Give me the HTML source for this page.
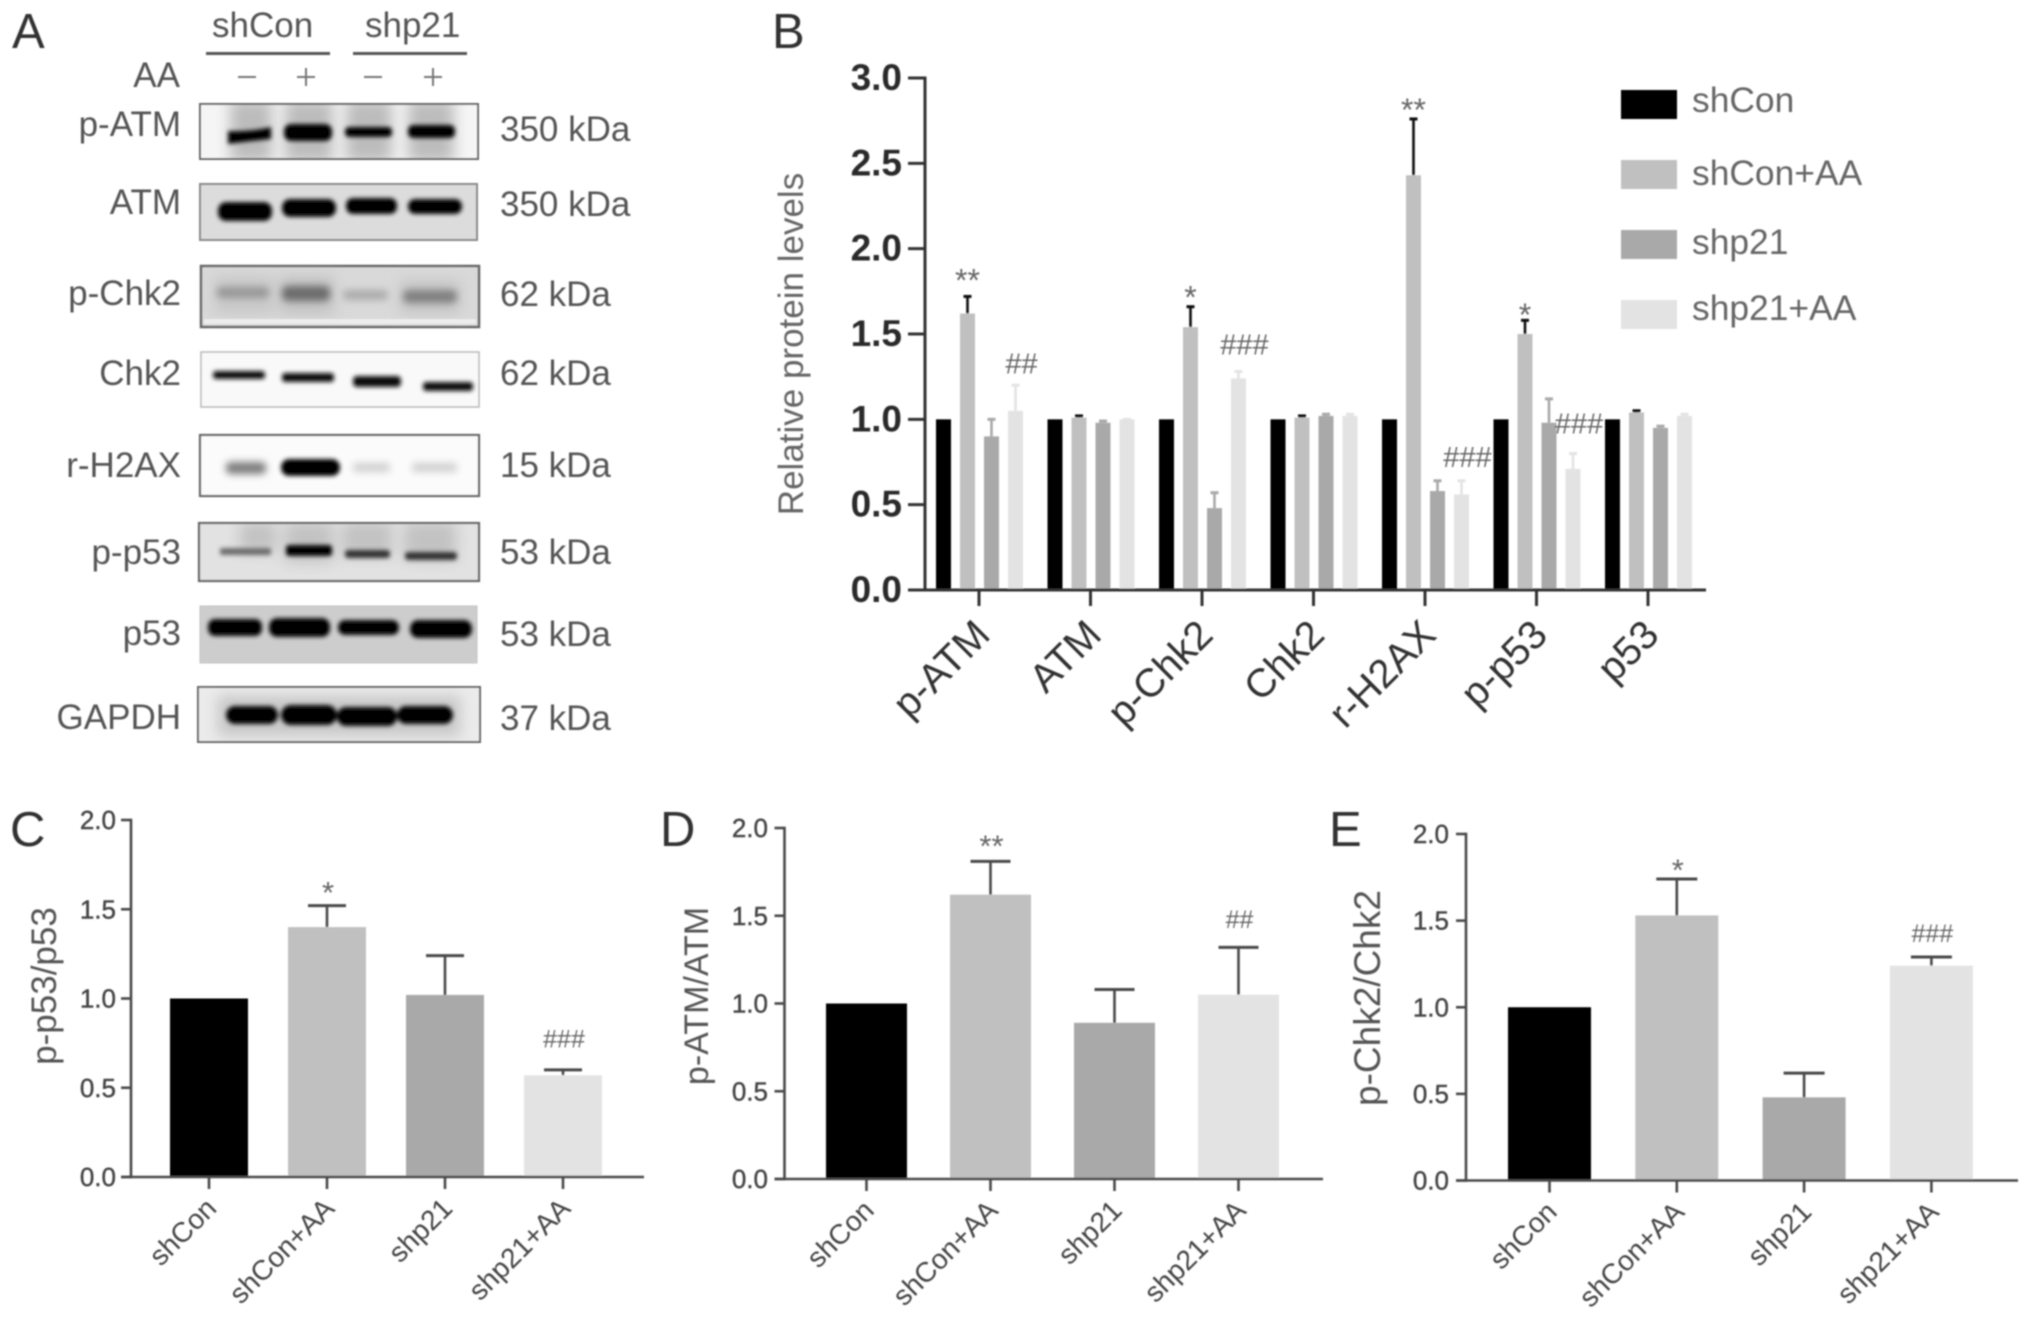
<!DOCTYPE html>
<html lang="en">
<head>
<meta charset="utf-8">
<title>Western blot and protein level charts</title>
<style>
html,body{margin:0;padding:0;background:#fff;width:2031px;height:1320px;overflow:hidden}
svg{display:block}
text{font-family:"Liberation Sans",sans-serif}
</style>
</head>
<body>
<svg id="figure" xmlns="http://www.w3.org/2000/svg" width="2031" height="1320" viewBox="0 0 2031 1320">
<defs>
<filter id="soft" filterUnits="userSpaceOnUse" x="0" y="0" width="2031" height="1320"><feGaussianBlur stdDeviation="0.7"/></filter>
<filter id="b1" x="-20%" y="-100%" width="140%" height="300%"><feGaussianBlur stdDeviation="2.2"/></filter>
<filter id="b2" x="-20%" y="-120%" width="140%" height="340%"><feGaussianBlur stdDeviation="3.6"/></filter>
<filter id="b3" x="-40%" y="-40%" width="180%" height="180%"><feGaussianBlur stdDeviation="7"/></filter>
<clipPath id="clip-atm-lanes"><rect x="201" y="105" width="276" height="53"/></clipPath>
<clipPath id="clip-p53-lanes"><rect x="200" y="524" width="278" height="56"/></clipPath>
<clipPath id="clip-gapdh"><rect x="199" y="688" width="280" height="53"/></clipPath>
</defs>
<g id="root" filter="url(#soft)">
<g id="panel-a" fill="#555">
<text x="12" y="48" font-size="49" fill="#333">A</text>
<text x="212" y="37" font-size="35">shCon</text>
<text x="365" y="37" font-size="35">shp21</text>
<rect x="206" y="52" width="124" height="3" fill="#555"/>
<rect x="353" y="52" width="114" height="3" fill="#555"/>
<text x="180" y="87" font-size="35" text-anchor="end">AA</text>
<g stroke="#777" stroke-width="2">
<path d="M238 77H256"/>
<path d="M297 77H315M306 68V86"/>
<path d="M364 77H382"/>
<path d="M424 77H442M433 68V86"/>
</g>

<g>
<rect x="200" y="104" width="278" height="55" fill="#f5f5f5" stroke="#666" stroke-width="2"/>
<g clip-path="url(#clip-atm-lanes)"><g fill="#bcbcbc" filter="url(#b3)"><rect x="230" y="100" width="42" height="62"/><rect x="285" y="100" width="48" height="62"/><rect x="346" y="100" width="46" height="62"/><rect x="408" y="100" width="46" height="62"/></g></g>
<g fill="#050505" filter="url(#b1)"><path d="M228 131 Q250 132 271 127 V139 Q250 141 228 144 Z"/><rect x="284" y="124" width="48" height="17" rx="7"/><rect x="345" y="127" width="47" height="10" rx="4"/><rect x="408" y="125" width="47" height="13" rx="5"/></g>
</g>
<g>
<rect x="200" y="184" width="277" height="56" fill="#dcdcdc" stroke="#888" stroke-width="2"/>
<g fill="#000" filter="url(#b1)"><rect x="218" y="202" width="54" height="19" rx="8"/><rect x="282" y="199" width="54" height="18" rx="8"/><rect x="346" y="198" width="51" height="16" rx="7"/><rect x="408" y="199" width="54" height="15" rx="7"/></g>
</g>
<g>
<rect x="201" y="266" width="278" height="61" fill="#d9d9d9" stroke="#666" stroke-width="2.5"/>
<g filter="url(#b3)"><rect x="214" y="276" width="60" height="38" fill="#c8c8c8"/><rect x="280" y="276" width="54" height="38" fill="#c2c2c2"/><rect x="400" y="280" width="60" height="34" fill="#c6c6c6"/></g>
<rect x="204" y="319" width="272" height="5" fill="#ececec"/>
<g filter="url(#b2)"><rect x="217" y="287" width="52" height="11" rx="4" fill="#979797"/><rect x="282" y="286" width="48" height="15" rx="5" fill="#6c6c6c"/><rect x="343" y="290" width="45" height="10" rx="4" fill="#aaa"/><rect x="403" y="290" width="54" height="13" rx="5" fill="#808080"/></g>
</g>
<g>
<rect x="201" y="352" width="278" height="55" fill="#f9f9f9" stroke="#bbb" stroke-width="1.6"/>
<g fill="#0c0c0c" filter="url(#b1)"><rect x="213" y="371" width="52" height="8" rx="3"/><rect x="282" y="373" width="52" height="9" rx="3"/><rect x="353" y="376" width="48" height="11" rx="4"/><rect x="423" y="382" width="50" height="9" rx="3"/></g>
</g>
<g>
<rect x="200" y="435" width="279" height="61" fill="#fbfbfb" stroke="#666" stroke-width="2.2"/>
<g filter="url(#b2)"><rect x="226" y="462" width="40" height="12" rx="4" fill="#7c7c7c"/><rect x="353" y="463" width="37" height="9" rx="3" fill="#cfcfcf"/><rect x="412" y="463" width="45" height="9" rx="3" fill="#cfcfcf"/></g>
<rect x="281" y="459" width="59" height="17" rx="8" fill="#000" filter="url(#b1)"/>
</g>
<g>
<rect x="199" y="523" width="280" height="58" fill="#e2e2e2" stroke="#666" stroke-width="2.2"/>
<g clip-path="url(#clip-p53-lanes)"><g fill="#c2c2c2" filter="url(#b3)"><rect x="240" y="522" width="36" height="30"/><rect x="285" y="522" width="48" height="40"/><rect x="342" y="522" width="50" height="34"/><rect x="404" y="522" width="52" height="38"/></g></g>
<g filter="url(#b1)"><rect x="220" y="548" width="51" height="7" rx="2" fill="#6c6c6c"/><rect x="286" y="545" width="46" height="11" rx="3" fill="#050505"/><rect x="345" y="550" width="45" height="8" rx="3" fill="#333"/><rect x="405" y="552" width="52" height="8" rx="3" fill="#333"/></g>
</g>
<g>
<rect x="200" y="606" width="277" height="57" fill="#cdcdcd" stroke="#c4c4c4" stroke-width="1"/>
<g fill="#000" filter="url(#b1)"><rect x="208" y="619" width="54" height="17" rx="7"/><rect x="269" y="618" width="61" height="19" rx="8"/><rect x="338" y="620" width="61" height="15" rx="7"/><rect x="410" y="620" width="62" height="18" rx="8"/></g>
</g>
<g>
<rect x="198" y="687" width="282" height="55" fill="#ebebeb" stroke="#666" stroke-width="2"/>
<g clip-path="url(#clip-gapdh)"><rect x="218" y="696" width="242" height="40" fill="#c6c6c6" filter="url(#b3)"/></g>
<g fill="#000" filter="url(#b1)"><rect x="226" y="706" width="52" height="18" rx="9"/><rect x="281" y="705" width="56" height="20" rx="10"/><rect x="337" y="707" width="60" height="19" rx="9"/><rect x="397" y="706" width="56" height="18" rx="9"/></g>
</g>

<g font-size="35" text-anchor="end">
<text x="181" y="136">p-ATM</text>
<text x="181" y="214">ATM</text>
<text x="181" y="305">p-Chk2</text>
<text x="181" y="385">Chk2</text>
<text x="181" y="477">r-H2AX</text>
<text x="181" y="564">p-p53</text>
<text x="181" y="645">p53</text>
<text x="181" y="729">GAPDH</text>
</g>
<g font-size="35">
<text x="500" y="141">350 kDa</text>
<text x="500" y="216">350 kDa</text>
<text x="500" y="306">62 kDa</text>
<text x="500" y="385">62 kDa</text>
<text x="500" y="477">15 kDa</text>
<text x="500" y="564">53 kDa</text>
<text x="500" y="646">53 kDa</text>
<text x="500" y="730">37 kDa</text>
</g>
</g>
<text x="772" y="48" font-size="49" fill="#333">B</text>
<text x="10" y="846" font-size="49" fill="#333">C</text>
<text x="660" y="846" font-size="49" fill="#333">D</text>
<text x="1329" y="846" font-size="49" fill="#333">E</text>
<g id="chart-b"></g>
<g id="chart-c"></g>
<g id="chart-d"></g>
<g id="chart-e"></g>
</g>
</svg>
<script>
// ---- Panel B data ----
const bCategories = ['p-ATM','ATM','p-Chk2','Chk2','r-H2AX','p-p53','p53'];
const bSeriesNames = ['shCon','shCon+AA','shp21','shp21+AA'];
const bTickLabels = ['0.0','0.5','1.0','1.5','2.0','2.5','3.0'];
const bTickValues = [0,0.5,1,1.5,2,2.5,3];
const bShCon = [1,1,1,1,1,1,1];
const bShConAA = [1.62,1.01,1.54,1.01,2.43,1.50,1.04];
const bShp21 = [0.90,0.98,0.48,1.02,0.58,0.98,0.95];
const bShp21AA = [1.05,1.00,1.24,1.02,0.56,0.71,1.02];
const bShConAAErr = [1.72,1.02,1.66,1.02,2.76,1.58,1.05];
const bShp21Err = [1.00,0.99,0.57,1.03,0.64,1.12,0.96];
const bShp21AAErr = [1.20,1.00,1.28,1.03,0.64,0.80,1.03];
const bShConAAMarks = ['**','','*','','**','*',''];
const bShp21AAMarks = ['##','','###','','###','###',''];

// ---- Panels C, D, E data ----
const groupLabels = ['shCon','shCon+AA','shp21','shp21+AA'];
const smallTickLabels = ['0.0','0.5','1.0','1.5','2.0'];
const smallTickValues = [0,0.5,1,1.5,2];
const cValues = [1,1.40,1.02,0.57];
const cErrTops = [1,1.52,1.24,0.60];
const cMarks = ['','*','','###'];
const dValues = [1,1.62,0.89,1.05];
const dErrTops = [1,1.81,1.08,1.32];
const dMarks = ['','**','','##'];
const eValues = [1,1.53,0.48,1.24];
const eErrTops = [1,1.74,0.62,1.29];
const eMarks = ['','*','','###'];

const NS = 'http://www.w3.org/2000/svg';
const barColors = ['#000000','#c0c0c0','#a9a9a9','#e3e3e3'];
function mk(tag, attrs, parent){
  const el = document.createElementNS(NS, tag);
  for (const k in attrs) el.setAttribute(k, attrs[k]);
  parent.appendChild(el);
  return el;
}
function markBaseline(text, y, size){
  return text.includes('#') ? y + 0.35 * size : y + 0.59 * size;
}

// ---- Panel B ----
(function(){
  const g = document.getElementById('chart-b');
  const axisX = 925, y0 = 590, yTop = 78, x0 = 979, step = 111.5, barW = 15, barStep = 24, groupShift = 0.5;
  const yS = v => y0 - (v / 3) * (y0 - yTop);
  const xS = i => x0 + i * step;
  const barX = (i, s) => xS(i) + groupShift + (s - 1.5) * barStep;
  const seriesValues = [bShCon, bShConAA, bShp21, bShp21AA];
  const seriesErrs = [null, bShConAAErr, bShp21Err, bShp21AAErr];
  const errColors = ['#000','#111','#a9a9a9','#e3e3e3'];
  seriesValues.forEach((vals, s) => {
    vals.forEach((v, i) => {
      const cx = barX(i, s);
      const e = seriesErrs[s];
      if (e) {
        const stem = mk('line', {x1:cx, x2:cx, y1:yS(v), y2:yS(e[i]), stroke:errColors[s], 'stroke-width':2.6}, g);
        
        
        const cap = mk('line', {x1:cx-4, x2:cx+4, y1:yS(e[i]), y2:yS(e[i]), stroke:errColors[s], 'stroke-width':3}, g);
        
        
      }
      const bar = mk('rect', {x:cx-barW/2, y:yS(v), width:barW, height:y0-yS(v), fill:barColors[s]}, g);
      
      
    });
  });
  const yAxis = mk('line', {x1:axisX, x2:axisX, y1:yTop-1.5, y2:y0+1.5, stroke:'#333', 'stroke-width':3}, g);
  
  
  const xAxis = mk('line', {x1:908, x2:1706, y1:y0, y2:y0, stroke:'#333', 'stroke-width':3}, g);
  
  
  bTickValues.forEach((v, i) => {
    const t = mk('line', {x1:908, x2:axisX, y1:yS(v), y2:yS(v), stroke:'#333', 'stroke-width':3}, g);
    
    
    const l = mk('text', {x:902, y:yS(v)+12, 'font-size':37, 'font-weight':'bold', 'text-anchor':'end', fill:'#2a2a2a'}, g);
    l.textContent = bTickLabels[i];
    
    
  });
  bCategories.forEach((c, i) => {
    const x = xS(i);
    const t = mk('line', {x1:x, x2:x, y1:y0, y2:y0+16, stroke:'#333', 'stroke-width':3}, g);
    
    
    const lx = x + 13, ly = y0 + 47;
    const l = mk('text', {x:lx, y:ly, 'font-size':40, 'text-anchor':'end', fill:'#333', transform:'rotate(-45 '+lx+' '+ly+')'}, g);
    l.textContent = c;
    
    
  });
  const title = mk('text', {x:0, y:0, 'font-size':35, 'text-anchor':'middle', fill:'#666', transform:'translate(803 344) rotate(-90)'}, g);
  title.textContent = 'Relative protein levels';
  
  

  const markSets = [[bShConAAMarks, bShConAAErr, 1, [24,0,17,0,17,13,0], 0], [bShp21AAMarks, bShp21AAErr, 3, [22,0,27,0,24,30,0], 6]];
  markSets.forEach(set => {
    set[0].forEach((m, i) => {
      if (!m) return;
      const size = m.includes('#') ? 29 : 32;
      const cx = barX(i, set[2]) + set[4];
      const cy = yS(set[1][i]) - set[3][i];
      const a = mk('text', {x:cx, y:markBaseline(m, cy, size), 'font-size':size, 'text-anchor':'middle', fill:'#666'}, g);
      a.textContent = m;
      
      
    });
  });

  const legendY = [90,160,230,300];
  const legendBase = [112,185,254,320];
  bSeriesNames.forEach((n, s) => {
    const sw = mk('rect', {x:1630-9, y:legendY[s], width:56, height:29, fill:barColors[s]}, g);
    
    
    const l = mk('text', {x:1692, y:legendBase[s], 'font-size':35.4, fill:'#666'}, g);
    l.textContent = n;
    
    
  });
})();

// ---- Panels C, D, E ----
function drawSmall(id, values, errTops, marks, title, L){
  const g = document.getElementById(id);
  const yS = v => L.y0 - (v / 2) * (L.y0 - L.yTop);
  const xS = i => L.x0 + i * L.step;
  values.forEach((v, i) => {
    const cx = xS(i);
    if (errTops[i] > v) {
      const stem = mk('line', {x1:cx, x2:cx, y1:yS(v), y2:yS(errTops[i]), stroke:'#4a4a4a', 'stroke-width':2.6}, g);
      
      
      const cap = mk('line', {x1:cx-L.capW/2, x2:cx+L.capW/2, y1:yS(errTops[i]), y2:yS(errTops[i]), stroke:'#4a4a4a', 'stroke-width':3}, g);
      
      
    }
    const bar = mk('rect', {x:cx-L.barW/2, y:yS(v), width:L.barW, height:L.y0-yS(v), fill:barColors[i]}, g);
    
    
    if (marks[i]) {
      const size = marks[i].includes('#') ? 25 : 31;
      const cy = yS(errTops[i]) - L.gaps[i];
      const a = mk('text', {x:cx+1, y:markBaseline(marks[i], cy, size), 'font-size':size, 'text-anchor':'middle', fill:'#666'}, g);
      a.textContent = marks[i];
      
      
    }
    const t = mk('line', {x1:cx, x2:cx, y1:L.y0, y2:L.y0+12, stroke:'#4a4a4a', 'stroke-width':2.6}, g);
    
    
    const lx = cx + 9, ly = L.y0 + 33;
    const l = mk('text', {x:lx, y:ly, 'font-size':28, 'text-anchor':'end', fill:'#444', transform:'rotate(-45 '+lx+' '+ly+')'}, g);
    l.textContent = groupLabels[i];
    
    
  });
  const yAxis = mk('line', {x1:L.axisX, x2:L.axisX, y1:L.yTop-1.3, y2:L.y0+1.3, stroke:'#4a4a4a', 'stroke-width':2.6}, g);
  
  
  const xAxis = mk('line', {x1:L.axisX-10, x2:L.axisEnd, y1:L.y0, y2:L.y0, stroke:'#4a4a4a', 'stroke-width':2.6}, g);
  
  
  smallTickValues.forEach((v, i) => {
    const t = mk('line', {x1:L.axisX-10, x2:L.axisX, y1:yS(v), y2:yS(v), stroke:'#4a4a4a', 'stroke-width':2.6}, g);
    
    
    const l = mk('text', {x:L.labelX, y:yS(v)+9, 'font-size':26, 'text-anchor':'end', fill:'#444', stroke:'#444', 'stroke-width':0.4}, g);
    l.textContent = smallTickLabels[i];
    
    
  });
  const ttl = mk('text', {x:0, y:0, 'font-size':L.titleSize, 'text-anchor':'middle', fill:'#555', transform:'translate('+L.titleX+' '+L.titleY+') rotate(-90)'}, g);
  ttl.textContent = title;
  
  
}
drawSmall('chart-c', cValues, cErrTops, cMarks, 'p-p53/p53', {axisX:131, axisEnd:644, y0:1177, yTop:820, x0:209, step:118, barW:78, capW:38, labelX:116, titleX:56, titleY:986, titleSize:35, gaps:[0,21,0,31]});
drawSmall('chart-d', dValues, dErrTops, dMarks, 'p-ATM/ATM', {axisX:784.5, axisEnd:1323, y0:1179, yTop:828, x0:866.5, step:124, barW:81, capW:40, labelX:768, titleX:708, titleY:996, titleSize:34, gaps:[0,23,0,28]});
drawSmall('chart-e', eValues, eErrTops, eMarks, 'p-Chk2/Chk2', {axisX:1466, axisEnd:2018, y0:1180.5, yTop:834, x0:1549.5, step:127.3, barW:83, capW:41, labelX:1449, titleX:1380, titleY:998, titleSize:37, gaps:[0,17,0,24]});
</script>
</body>
</html>
